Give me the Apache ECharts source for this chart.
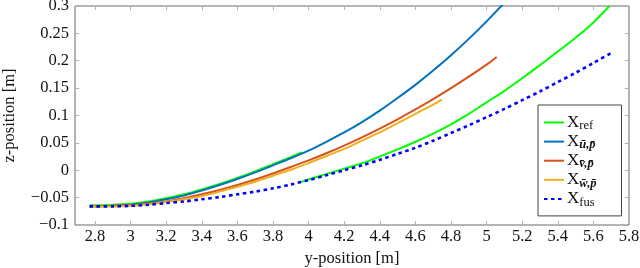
<!DOCTYPE html>
<html>
<head>
<meta charset="utf-8">
<script src="https://cdn.jsdelivr.net/npm/echarts@6/dist/echarts.min.js"></script>
<style>html,body{margin:0;padding:0;background:#fff}#c{width:640px;height:268px}</style>
</head>
<body>
<div id="c"></div>
<script>
// tick labels
const xTicks = [2.8, 3, 3.2, 3.4, 3.6, 3.8, 4, 4.2, 4.4, 4.6, 4.8, 5, 5.2, 5.4, 5.6, 5.8];
const yTicks = [-0.1, -0.05, 0, 0.05, 0.1, 0.15, 0.2, 0.25, 0.3];

// X_ref (two pieces)
const refPart1 = [[2.77,-0.064],[2.9,-0.063],[3.0,-0.061],[3.1,-0.057],[3.2,-0.051],[3.3,-0.044],[3.4,-0.035],[3.5,-0.025],[3.6,-0.014],[3.7,-0.002],[3.8,0.011],[3.9,0.024],[3.965,0.033]];
const refPart2 = [[3.96,-0.021],[4.0,-0.017],[4.1,-0.007],[4.2,0.003],[4.3,0.013],[4.4,0.025],[4.5,0.038],[4.6,0.052],[4.7,0.067],[4.8,0.084],[4.9,0.103],[5.0,0.124],[5.1,0.145],[5.2,0.168],[5.3,0.192],[5.4,0.217],[5.5,0.242],[5.6,0.270],[5.69,0.300]];
// X_u,p
const uSeries = [[2.77,-0.066],[2.9,-0.065],[3.0,-0.063],[3.1,-0.059],[3.2,-0.053],[3.3,-0.046],[3.4,-0.037],[3.5,-0.027],[3.6,-0.016],[3.7,-0.004],[3.8,0.009],[3.9,0.022],[4.0,0.036],[4.1,0.052],[4.2,0.069],[4.3,0.088],[4.4,0.109],[4.5,0.132],[4.6,0.156],[4.7,0.182],[4.8,0.210],[4.9,0.240],[5.0,0.272],[5.1,0.306],[5.2,0.342]];
// X_v,p
const vSeries = [[2.77,-0.066],[2.9,-0.065],[3.0,-0.064],[3.1,-0.061],[3.2,-0.057],[3.3,-0.051],[3.4,-0.044],[3.5,-0.036],[3.6,-0.027],[3.7,-0.017],[3.8,-0.006],[3.9,0.006],[4.0,0.018],[4.1,0.031],[4.2,0.045],[4.3,0.060],[4.4,0.076],[4.5,0.093],[4.6,0.111],[4.7,0.130],[4.8,0.150],[4.9,0.171],[5.0,0.193],[5.057,0.207]];
// X_w,p
const wSeries = [[2.77,-0.066],[2.9,-0.066],[3.0,-0.065],[3.1,-0.062],[3.2,-0.058],[3.3,-0.053],[3.4,-0.047],[3.5,-0.039],[3.6,-0.030],[3.7,-0.021],[3.8,-0.010],[3.9,0.001],[4.0,0.013],[4.1,0.026],[4.2,0.039],[4.3,0.054],[4.4,0.069],[4.5,0.086],[4.6,0.103],[4.7,0.120],[4.748,0.129]];
// X_fus
const fusSeries = [[2.77,-0.066],[2.9,-0.066],[3.0,-0.065],[3.1,-0.063],[3.2,-0.060],[3.3,-0.057],[3.4,-0.053],[3.5,-0.049],[3.6,-0.044],[3.7,-0.039],[3.8,-0.033],[3.9,-0.026],[4.0,-0.018],[4.1,-0.009],[4.2,0.000],[4.3,0.009],[4.4,0.019],[4.5,0.030],[4.6,0.041],[4.7,0.054],[4.8,0.068],[4.9,0.082],[5.0,0.097],[5.1,0.112],[5.2,0.128],[5.3,0.144],[5.4,0.161],[5.5,0.178],[5.6,0.196],[5.71,0.216]];

const FONT = '"Liberation Serif", "DejaVu Serif", serif';
const legendText = {
  ref: '{x|X}{s|ref}',
  u: '{x|X}{b|\u016B,p\u0304}',
  v: '{x|X}{b|v\u0304,p\u0304}',
  w: '{x|X}{b|w\u0304,p\u0304}',
  fus: '{x|X}{s|fus}'
};

const chart = echarts.init(document.getElementById('c'), null, {renderer: 'canvas'});
const tickStyle = {show: true, inside: true, length: 4, lineStyle: {color: '#b0b0b0', width: 1}};
const xMin = 2.688, xMax = 5.8, yMin = -0.1, yMax = 0.3;

function line(name, data, color, extra) {
  return Object.assign({
    name: name, type: 'line', data: data, showSymbol: false, symbol: 'none',
    smooth: 0.3, clip: true, silent: true,
    lineStyle: {color: color, width: 2}, itemStyle: {color: color}
  }, extra || {});
}

chart.setOption({
  animation: false,
  grid: {left: 75, right: 11, top: 6, bottom: 43, show: true, borderColor: '#6a6a6a', borderWidth: 1,
    backgroundColor: 'transparent', containLabel: false, outerBoundsMode: 'none'},
  xAxis: [{
    type: 'value', min: xMin, max: xMax, position: 'bottom',
    name: 'y-position [m]', nameLocation: 'middle', nameGap: 22,
    nameTextStyle: {fontFamily: FONT, fontSize: 16.5, color: '#111'},
    axisLine: {show: false, onZero: false}, splitLine: {show: false},
    axisTick: Object.assign({customValues: xTicks}, tickStyle),
    axisLabel: {customValues: xTicks, fontFamily: FONT, fontSize: 16.5, color: '#111', margin: 3, formatter: v => String(v)}
  }, {
    type: 'value', min: xMin, max: xMax, position: 'top',
    axisLine: {show: false, onZero: false}, splitLine: {show: false},
    axisTick: Object.assign({customValues: xTicks}, tickStyle),
    axisLabel: {show: false}
  }],
  yAxis: [{
    type: 'value', min: yMin, max: yMax, position: 'left',
    name: 'z-position [m]', nameLocation: 'middle', nameGap: 57, nameRotate: 90,
    nameTextStyle: {fontFamily: FONT, fontSize: 16.5, color: '#111'},
    axisLine: {show: false, onZero: false}, splitLine: {show: false},
    axisTick: Object.assign({customValues: yTicks}, tickStyle),
    axisLabel: {customValues: yTicks, fontFamily: FONT, fontSize: 16.5, color: '#111', margin: 6,
      formatter: v => (v < 0 ? '\u2212' + String(Math.abs(v)) : String(v))}
  }, {
    type: 'value', min: yMin, max: yMax, position: 'right',
    axisLine: {show: false, onZero: false}, splitLine: {show: false},
    axisTick: Object.assign({customValues: yTicks}, tickStyle),
    axisLabel: {show: false}
  }],
  legend: {
    orient: 'vertical', left: 538, top: 105,
    padding: [9, 25, 7, 5], itemGap: 0.6, itemWidth: 20, itemHeight: 12,
    backgroundColor: '#fff', borderColor: '#444', borderWidth: 1, borderRadius: 0,
    data: ['ref', 'u', 'v', 'w', 'fus'],
    formatter: n => legendText[n],
    itemStyle: {color: 'rgba(0,0,0,0)', borderColor: 'rgba(0,0,0,0)', borderWidth: 0, opacity: 0},
    textStyle: {
      fontFamily: FONT, color: '#111', padding: [0, 0, 0, -2],
      rich: {
        x: {fontFamily: FONT, fontSize: 17, lineHeight: 20, color: '#111'},
        s: {fontFamily: FONT, fontSize: 12.5, lineHeight: 6, verticalAlign: 'bottom', color: '#111'},
        b: {fontFamily: FONT, fontSize: 12.5, lineHeight: 6, verticalAlign: 'bottom', fontStyle: 'italic', fontWeight: 'bold', color: '#111'}
      }
    }
  },
  series: [
    line('ref', refPart1, '#00ff00'),
    line('ref', refPart2, '#00ff00'),
    line('u', uSeries, '#0072bd'),
    line('v', vSeries, '#d95319'),
    line('w', wSeries, '#edb120'),
    line('fus', fusSeries, '#0000ff', {lineStyle: {color: '#0000ff', width: 2.6, type: [3.5, 3.5], cap: 'butt'}})
  ]
});
</script>
</body>
</html>
